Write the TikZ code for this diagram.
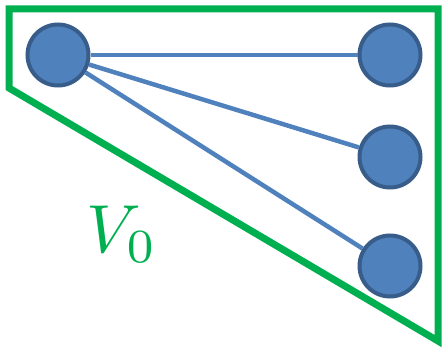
\documentclass[tikz,border=0pt]{standalone}
\usepackage{amsmath}
\usepackage{tikz}
\usetikzlibrary{calc}
\definecolor{vzero}{RGB}{0, 176, 80}
\definecolor{vfill}{RGB}{79, 129, 189}
\definecolor{vdraw}{RGB}{56, 93, 138}

\begin{document}
\begin{tikzpicture}[x=1pt, y=-1pt]
  \tikzset{
    vert/.style={circle, fill=vfill, draw=vdraw, line width=4pt, minimum size=61pt, inner sep=0pt},
    link/.style={draw=vfill, line width=4.5pt}
  }
  \useasboundingbox (0,0) rectangle (442,350);
  % Region V_0
  \draw[vzero, line width=7pt, line join=miter] (9,88) -- (9,9) -- (438,9) -- (438,341) -- cycle;
  % Vertices
  \node[vert] (s) at (58,55) {};
  \node[vert] (a) at (390,55) {};
  \node[vert] (b) at (390,157) {};
  \node[vert] (c) at (390,266) {};
  % Edges
  \draw[link] (s) -- (a);
  \draw[link] (s) -- (b);
  \draw[link] (s) -- (c);
  \node[vzero, scale=6.8, inner sep=0pt] (lbl) at (122,234) {$V_0$};
\end{tikzpicture}
\end{document}
